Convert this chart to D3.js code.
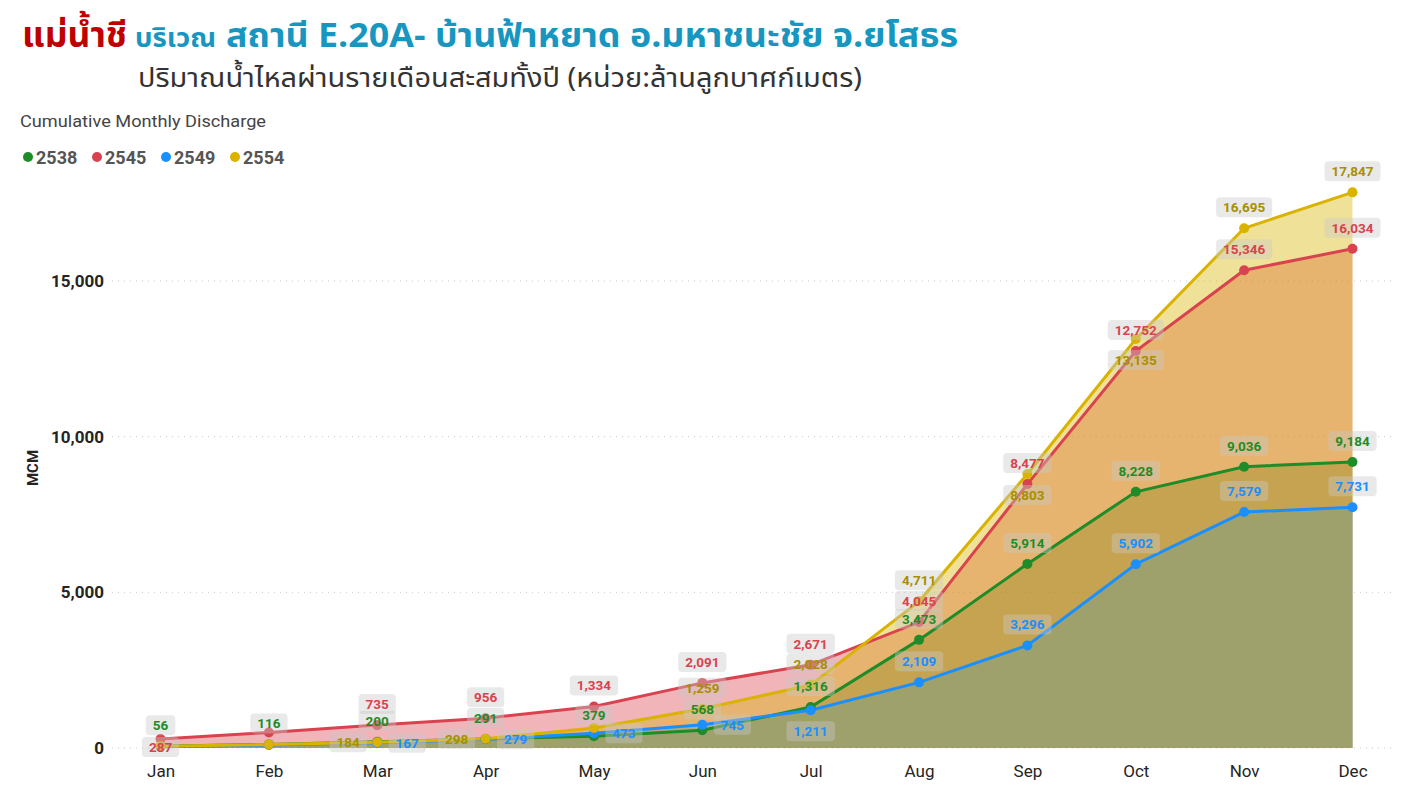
<!DOCTYPE html>
<html>
<head>
<meta charset="utf-8">
<script src="https://cdn.jsdelivr.net/npm/d3@7"></script>
<style>
  body { margin: 0; background: #fff; }
  text { font-family: Roboto, "Noto Sans", sans-serif; }
  .thai { font-family: "Noto Sans Thai", "Noto Sans", "DejaVu Sans", sans-serif; }
</style>
</head>
<body>
<div id="chart"></div>
<script>
// Chart data
var months = ["Jan", "Feb", "Mar", "Apr", "May", "Jun", "Jul", "Aug", "Sep", "Oct", "Nov", "Dec"];
var years = ["2538", "2545", "2549", "2554"];
var v2538 = [56, 116, 200, 291, 379, 568, 1316, 3473, 5914, 8228, 9036, 9184];
var v2545 = [287, 500, 735, 956, 1334, 2091, 2671, 4045, 8477, 12752, 15346, 16034];
var v2549 = [40, 95, 167, 279, 473, 745, 1211, 2109, 3296, 5902, 7579, 7731];
var v2554 = [60, 110, 184, 298, 640, 1259, 2028, 4711, 8803, 13135, 16695, 17847];
var yTicks = [0, 5000, 10000, 15000];

// where each data label sits: a = above, b = below, r = right, l = left, n = hidden
var pos2538 = ["a", "a", "a", "a", "a", "a", "a", "a", "a", "a", "a", "a"];
var pos2545 = ["b", "n", "a", "a", "a", "a", "a", "a", "a", "a", "a", "a"];
var pos2549 = ["n", "n", "r", "r", "r", "r", "b", "a", "a", "a", "a", "a"];
var pos2554 = ["n", "n", "l", "l", "n", "a", "a", "a", "b", "b", "a", "a"];

var lineColors = ["#1e8c28", "#d9434f", "#1a8fff", "#d9b300"];
var labelColors = ["#1e8c28", "#d9434f", "#1a8fff", "#a88f00"];

var series = [
  { name: years[0], values: v2538, pos: pos2538 },
  { name: years[1], values: v2545, pos: pos2545 },
  { name: years[2], values: v2549, pos: pos2549 },
  { name: years[3], values: v2554, pos: pos2554 }
];

var width = 1409, height = 789;

var svg = d3.select("#chart")
  .append("svg")
    .attr("width", width)
    .attr("height", height);

// Titles (stretched to the widths seen in the original)
function titlePart(txt, xPos, len, size, color) {
  svg.append("text")
    .attr("class", "thai")
    .attr("x", xPos)
    .attr("y", 47)
    .attr("fill", color)
    .attr("textLength", len)
    .attr("lengthAdjust", "spacingAndGlyphs")
    .style("font-size", size)
    .style("font-weight", "bold")
    .text(txt);
}
titlePart("แม่น้ำชี", 22, 105, "35px", "#c00000");
titlePart("บริเวณ", 135, 81, "27px", "#1797c0");
titlePart("สถานี E.20A- บ้านฟ้าหยาด อ.มหาชนะชัย จ.ยโสธร", 226, 732, "34px", "#1797c0");

svg.append("text")
  .attr("class", "thai")
  .attr("x", 138)
  .attr("y", 87)
  .attr("fill", "#333")
  .attr("textLength", 724)
  .attr("lengthAdjust", "spacingAndGlyphs")
  .style("font-size", "27px")
  .text("ปริมาณน้ำไหลผ่านรายเดือนสะสมทั้งปี (หน่วย:ล้านลูกบาศก์เมตร)");

svg.append("text")
  .attr("x", 20)
  .attr("y", 127)
  .attr("fill", "#444")
  .attr("textLength", 246)
  .attr("lengthAdjust", "spacingAndGlyphs")
  .style("font-size", "16.5px")
  .text("Cumulative Monthly Discharge");

// Legend
var legend = svg.selectAll(".legend")
  .data(series)
  .join("g")
    .attr("transform", function(d, i) { return "translate(" + (28 + i * 69) + ",157)"; });
legend.append("circle")
  .attr("r", 5)
  .attr("fill", function(d, i) { return lineColors[i]; });
legend.append("text")
  .attr("x", 8)
  .attr("y", 6.5)
  .attr("fill", "#555")
  .style("font-size", "18px")
  .style("font-weight", "bold")
  .text(function(d) { return d.name; });

// Scales
var x = d3.scalePoint()
  .domain(months)
  .range([115, 1398])
  .padding(0.42);

var y = d3.scaleLinear()
  .domain([0, 15000])
  .range([748, 281]);

// Grid lines
svg.append("g")
  .selectAll("line")
  .data(yTicks)
  .join("line")
    .attr("x1", 112)
    .attr("x2", 1395)
    .attr("y1", function(d) { return y(d); })
    .attr("y2", function(d) { return y(d); })
    .attr("stroke", "#c8c8c8")
    .attr("stroke-width", 1)
    .attr("stroke-dasharray", "1,5");

// Y axis
var yAxis = svg.append("g")
  .attr("transform", "translate(106,0)")
  .call(d3.axisLeft(y).tickValues(yTicks).tickSize(0).tickFormat(d3.format(",")));
yAxis.select(".domain").remove();
yAxis.selectAll("text")
  .attr("x", -2)
  .attr("fill", "#252423")
  .style("font-size", "17px")
  .style("font-weight", "bold")
  .style("font-family", "Roboto, sans-serif");

svg.append("text")
  .attr("transform", "translate(38,468) rotate(-90)")
  .attr("text-anchor", "middle")
  .attr("fill", "#252423")
  .style("font-size", "15px")
  .style("font-weight", "bold")
  .text("MCM");

// X axis
var xAxis = svg.append("g")
  .attr("transform", "translate(0,760)")
  .call(d3.axisBottom(x).tickSize(0));
xAxis.select(".domain").remove();
xAxis.selectAll("text")
  .attr("dy", "0.71em")
  .attr("y", 5)
  .attr("fill", "#252423")
  .style("font-size", "17px")
  .style("font-family", "Roboto, sans-serif");

// Areas
var area = d3.area()
  .x(function(d, i) { return x(months[i]); })
  .y0(y(0))
  .y1(function(d) { return y(d); });

var line = d3.line()
  .x(function(d, i) { return x(months[i]); })
  .y(function(d) { return y(d); });

svg.append("g")
  .selectAll("path")
  .data(series)
  .join("path")
    .attr("d", function(d) { return area(d.values); })
    .attr("fill", function(d, i) { return lineColors[i]; })
    .attr("fill-opacity", 0.4);

// Lines
svg.append("g")
  .selectAll("path")
  .data(series)
  .join("path")
    .attr("d", function(d) { return line(d.values); })
    .attr("fill", "none")
    .attr("stroke", function(d, i) { return lineColors[i]; })
    .attr("stroke-width", 3);

// Points
series.forEach(function(s, si) {
  svg.append("g")
    .selectAll("circle")
    .data(s.values)
    .join("circle")
      .attr("cx", function(d, i) { return x(months[i]); })
      .attr("cy", function(d) { return y(d); })
      .attr("r", 5)
      .attr("fill", lineColors[si]);
});

// Data labels
var fmt = d3.format(",");
series.forEach(function(s, si) {
  s.values.forEach(function(v, i) {
    var p = s.pos[i];
    if (p === "n") return;
    var cx = x(months[i]), cy = y(v);
    if (p === "a") cy = cy - 21;
    if (p === "b") cy = Math.min(cy + 21, 747);
    if (p === "r") cx = cx + 30;
    if (p === "l") cx = cx - 29;

    var g = svg.append("g").attr("transform", "translate(" + cx + "," + cy + ")");
    var rect = g.append("rect");
    var t = g.append("text")
      .attr("text-anchor", "middle")
      .attr("dy", "0.36em")
      .attr("fill", labelColors[si])
      .style("font-size", "13.5px")
      .style("font-weight", "bold")
      .text(fmt(v));
    var w = t.node().getComputedTextLength() + 14;
    rect.attr("x", -w / 2)
      .attr("y", -10)
      .attr("width", w)
      .attr("height", 20)
      .attr("rx", 4)
      .attr("fill", "#c8c8c8")
      .attr("fill-opacity", 0.4);
  });
});
</script>
</body>
</html>
